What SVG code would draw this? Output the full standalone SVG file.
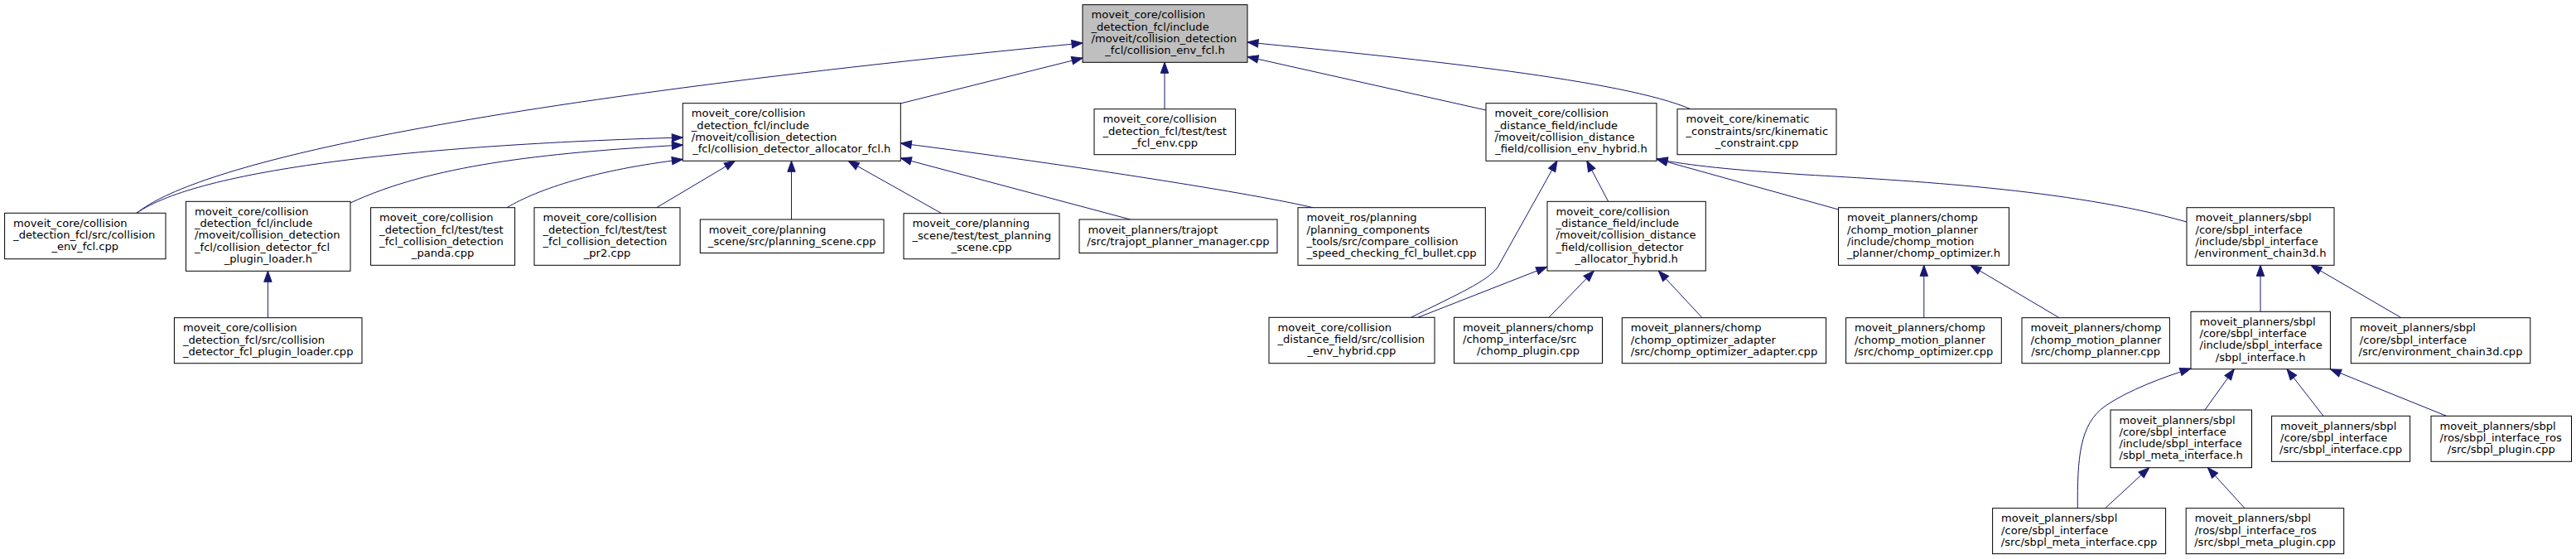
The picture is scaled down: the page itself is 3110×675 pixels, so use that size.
<svg xmlns="http://www.w3.org/2000/svg" width="3110" height="675" viewBox="0 0 3110 675">
<style>
.n rect{fill:#fff;stroke:#000;stroke-width:1}
.root rect{fill:#bfbfbf}
.n text{font-family:"DejaVu Sans","Liberation Sans",sans-serif;font-size:13.1px;fill:#000}
.n text.c{text-anchor:middle}
.e path{fill:none;stroke:#191970;stroke-width:1;marker-end:url(#arr)}
</style>
<defs>
<marker id="arr" markerWidth="13" markerHeight="10" refX="13" refY="4.7" orient="auto" markerUnits="userSpaceOnUse" overflow="visible">
<path d="M0,0 L13,4.7 L0,9.4 z" fill="#191970" stroke="#191970" stroke-width="1"/>
</marker>
</defs>
<rect width="3110" height="675" fill="#fff"/>
<g id="edges" class="e">
<path d="M165,257.3 C230,205 500,130 1307,52"/>
<path d="M1087,125 L1307,70"/>
<path d="M1406,131.7 L1406,75.3"/>
<path d="M1794,133 L1506,68.5"/>
<path d="M2041,131.7 C1960,97 1720,72 1506,51"/>
<path d="M165,257.3 C240,205 500,175 824.3,166"/>
<path d="M423,245 C520,200 650,185 824.3,175"/>
<path d="M612,250.7 C650,228 720,205 824.3,192.5"/>
<path d="M792.7,250.7 L887.5,194.3"/>
<path d="M955.5,265 L955.5,194.3"/>
<path d="M1136.8,257.7 L1024,194.3"/>
<path d="M1364.7,265 L1087.3,191"/>
<path d="M1585,250.7 C1520,235 1300,200 1087.3,173"/>
<path d="M323.4,383.7 L323.4,327.3"/>
<path d="M1703.6,383.3 C1760,355 1795,340 1808,323 L1880,194"/>
<path d="M1712,383.3 L1867.7,322.3"/>
<path d="M1941.7,243.3 L1915.7,194"/>
<path d="M2219.5,253 L2000,192"/>
<path d="M2640,268 C2500,228 2300,218 2180,211 C2090,205 2040,200 2000,192"/>
<path d="M1870,383.3 L1924.3,327"/>
<path d="M2055,383.7 L2002.3,327"/>
<path d="M2322.8,383.7 L2322.8,320.3"/>
<path d="M2486,383.7 L2379,320.3"/>
<path d="M2729,376.3 L2729,320.3"/>
<path d="M2899,383.7 L2790,320.3"/>
<path d="M2508.3,613.7 C2508,555 2510,512 2542,490 C2570,471 2610,456 2645,445"/>
<path d="M2662,495 L2697.3,445.7"/>
<path d="M2805,502.3 L2761,445.7"/>
<path d="M2953.6,502.3 L2813.4,445.7"/>
<path d="M2541.6,613.7 L2594.7,564.7"/>
<path d="M2710,613.7 L2665.4,564.7"/>
</g>
<g id="node0" class="n root">
<rect x="1307" y="5.7" width="199" height="69.6"/>
<text x="1317.5" y="22.2">moveit_core/collision</text>
<text x="1317.5" y="36.5">_detection_fcl/include</text>
<text x="1317.5" y="50.8">/moveit/collision_detection</text>
<text class="c" x="1406.5" y="65.1">_fcl/collision_env_fcl.h</text>
</g>
<g id="node1" class="n">
<rect x="824.3" y="124.7" width="263" height="69.6"/>
<text x="834.8" y="141.2">moveit_core/collision</text>
<text x="834.8" y="155.5">_detection_fcl/include</text>
<text x="834.8" y="169.8">/moveit/collision_detection</text>
<text class="c" x="955.8" y="184.1">_fcl/collision_detector_allocator_fcl.h</text>
</g>
<g id="node2" class="n">
<rect x="1321" y="131.7" width="170.6" height="55"/>
<text x="1331.5" y="148.2">moveit_core/collision</text>
<text x="1331.5" y="162.5">_detection_fcl/test/test</text>
<text class="c" x="1406.3" y="176.8">_fcl_env.cpp</text>
</g>
<g id="node3" class="n">
<rect x="1794" y="124.7" width="206" height="69.6"/>
<text x="1804.5" y="141.2">moveit_core/collision</text>
<text x="1804.5" y="155.5">_distance_field/include</text>
<text x="1804.5" y="169.8">/moveit/collision_distance</text>
<text class="c" x="1897" y="184.1">_field/collision_env_hybrid.h</text>
</g>
<g id="node4" class="n">
<rect x="2025" y="131.7" width="192" height="55"/>
<text x="2035.5" y="148.2">moveit_core/kinematic</text>
<text x="2035.5" y="162.5">_constraints/src/kinematic</text>
<text class="c" x="2121" y="176.8">_constraint.cpp</text>
</g>
<g id="node5" class="n">
<rect x="5.6" y="257.3" width="194.4" height="55.4"/>
<text x="16.1" y="273.8">moveit_core/collision</text>
<text x="16.1" y="288.1">_detection_fcl/src/collision</text>
<text class="c" x="102.8" y="302.4">_env_fcl.cpp</text>
</g>
<g id="node6" class="n">
<rect x="224.5" y="243.3" width="198.5" height="84"/>
<text x="235" y="259.8">moveit_core/collision</text>
<text x="235" y="274.1">_detection_fcl/include</text>
<text x="235" y="288.4">/moveit/collision_detection</text>
<text x="235" y="302.7">_fcl/collision_detector_fcl</text>
<text class="c" x="323.8" y="317">_plugin_loader.h</text>
</g>
<g id="node7" class="n">
<rect x="447.6" y="250.7" width="174" height="69.6"/>
<text x="458.1" y="267.2">moveit_core/collision</text>
<text x="458.1" y="281.5">_detection_fcl/test/test</text>
<text x="458.1" y="295.8">_fcl_collision_detection</text>
<text class="c" x="534.6" y="310.1">_panda.cpp</text>
</g>
<g id="node8" class="n">
<rect x="645" y="250.7" width="176" height="69.6"/>
<text x="655.5" y="267.2">moveit_core/collision</text>
<text x="655.5" y="281.5">_detection_fcl/test/test</text>
<text x="655.5" y="295.8">_fcl_collision_detection</text>
<text class="c" x="733" y="310.1">_pr2.cpp</text>
</g>
<g id="node9" class="n">
<rect x="845.3" y="265" width="221.7" height="40.5"/>
<text x="855.8" y="281.5">moveit_core/planning</text>
<text class="c" x="956.2" y="295.8">_scene/src/planning_scene.cpp</text>
</g>
<g id="node10" class="n">
<rect x="1091" y="257.7" width="188" height="55"/>
<text x="1101.5" y="274.2">moveit_core/planning</text>
<text x="1101.5" y="288.5">_scene/test/test_planning</text>
<text class="c" x="1185" y="302.8">_scene.cpp</text>
</g>
<g id="node11" class="n">
<rect x="1303" y="265" width="239" height="40.5"/>
<text x="1313.5" y="281.5">moveit_planners/trajopt</text>
<text class="c" x="1422.5" y="295.8">/src/trajopt_planner_manager.cpp</text>
</g>
<g id="node12" class="n">
<rect x="1567" y="250.7" width="226.3" height="69.6"/>
<text x="1577.5" y="267.2">moveit_ros/planning</text>
<text x="1577.5" y="281.5">/planning_components</text>
<text x="1577.5" y="295.8">_tools/src/compare_collision</text>
<text class="c" x="1680.2" y="310.1">_speed_checking_fcl_bullet.cpp</text>
</g>
<g id="node13" class="n">
<rect x="1868" y="243.3" width="191.3" height="83.7"/>
<text x="1878.5" y="259.8">moveit_core/collision</text>
<text x="1878.5" y="274.1">_distance_field/include</text>
<text x="1878.5" y="288.4">/moveit/collision_distance</text>
<text x="1878.5" y="302.7">_field/collision_detector</text>
<text class="c" x="1963.7" y="317">_allocator_hybrid.h</text>
</g>
<g id="node14" class="n">
<rect x="2219.5" y="250.7" width="206" height="69.6"/>
<text x="2230" y="267.2">moveit_planners/chomp</text>
<text x="2230" y="281.5">/chomp_motion_planner</text>
<text x="2230" y="295.8">/include/chomp_motion</text>
<text class="c" x="2322.5" y="310.1">_planner/chomp_optimizer.h</text>
</g>
<g id="node15" class="n">
<rect x="2640" y="250.7" width="178" height="69.6"/>
<text x="2650.5" y="267.2">moveit_planners/sbpl</text>
<text x="2650.5" y="281.5">/core/sbpl_interface</text>
<text x="2650.5" y="295.8">/include/sbpl_interface</text>
<text class="c" x="2729" y="310.1">/environment_chain3d.h</text>
</g>
<g id="node16" class="n">
<rect x="210.4" y="383.7" width="226.6" height="55"/>
<text x="220.9" y="400.2">moveit_core/collision</text>
<text x="220.9" y="414.5">_detection_fcl/src/collision</text>
<text class="c" x="323.7" y="428.8">_detector_fcl_plugin_loader.cpp</text>
</g>
<g id="node17" class="n">
<rect x="1532" y="383.3" width="200" height="55.4"/>
<text x="1542.5" y="399.8">moveit_core/collision</text>
<text x="1542.5" y="414.1">_distance_field/src/collision</text>
<text class="c" x="1632" y="428.4">_env_hybrid.cpp</text>
</g>
<g id="node18" class="n">
<rect x="1755.5" y="383.3" width="179" height="55.4"/>
<text x="1766" y="399.8">moveit_planners/chomp</text>
<text x="1766" y="414.1">/chomp_interface/src</text>
<text class="c" x="1845" y="428.4">/chomp_plugin.cpp</text>
</g>
<g id="node19" class="n">
<rect x="1958.3" y="383.7" width="246.3" height="55"/>
<text x="1968.8" y="400.2">moveit_planners/chomp</text>
<text x="1968.8" y="414.5">/chomp_optimizer_adapter</text>
<text class="c" x="2081.5" y="428.8">/src/chomp_optimizer_adapter.cpp</text>
</g>
<g id="node20" class="n">
<rect x="2228.6" y="383.7" width="187.7" height="55"/>
<text x="2239.1" y="400.2">moveit_planners/chomp</text>
<text x="2239.1" y="414.5">/chomp_motion_planner</text>
<text class="c" x="2322.5" y="428.8">/src/chomp_optimizer.cpp</text>
</g>
<g id="node21" class="n">
<rect x="2441" y="383.7" width="178.4" height="55"/>
<text x="2451.5" y="400.2">moveit_planners/chomp</text>
<text x="2451.5" y="414.5">/chomp_motion_planner</text>
<text class="c" x="2530.2" y="428.8">/src/chomp_planner.cpp</text>
</g>
<g id="node22" class="n">
<rect x="2645" y="376.3" width="168.4" height="69.4"/>
<text x="2655.5" y="392.8">moveit_planners/sbpl</text>
<text x="2655.5" y="407.1">/core/sbpl_interface</text>
<text x="2655.5" y="421.4">/include/sbpl_interface</text>
<text class="c" x="2729.2" y="435.7">/sbpl_interface.h</text>
</g>
<g id="node23" class="n">
<rect x="2838.3" y="383.7" width="216.5" height="55"/>
<text x="2848.8" y="400.2">moveit_planners/sbpl</text>
<text x="2848.8" y="414.5">/core/sbpl_interface</text>
<text class="c" x="2946.5" y="428.8">/src/environment_chain3d.cpp</text>
</g>
<g id="node24" class="n">
<rect x="2548" y="495" width="170.5" height="69.7"/>
<text x="2558.5" y="511.5">moveit_planners/sbpl</text>
<text x="2558.5" y="525.8">/core/sbpl_interface</text>
<text x="2558.5" y="540.1">/include/sbpl_interface</text>
<text class="c" x="2633.2" y="554.4">/sbpl_meta_interface.h</text>
</g>
<g id="node25" class="n">
<rect x="2742.6" y="502.3" width="167" height="55"/>
<text x="2753.1" y="518.8">moveit_planners/sbpl</text>
<text x="2753.1" y="533.1">/core/sbpl_interface</text>
<text class="c" x="2826.1" y="547.4">/src/sbpl_interface.cpp</text>
</g>
<g id="node26" class="n">
<rect x="2935" y="502.3" width="169.5" height="55"/>
<text x="2945.5" y="518.8">moveit_planners/sbpl</text>
<text x="2945.5" y="533.1">/ros/sbpl_interface_ros</text>
<text class="c" x="3019.8" y="547.4">/src/sbpl_plugin.cpp</text>
</g>
<g id="node27" class="n">
<rect x="2405.6" y="613.7" width="209" height="55"/>
<text x="2416.1" y="630.2">moveit_planners/sbpl</text>
<text x="2416.1" y="644.5">/core/sbpl_interface</text>
<text class="c" x="2510.1" y="658.8">/src/sbpl_meta_interface.cpp</text>
</g>
<g id="node28" class="n">
<rect x="2639.2" y="613.7" width="190.5" height="55"/>
<text x="2649.7" y="630.2">moveit_planners/sbpl</text>
<text x="2649.7" y="644.5">/ros/sbpl_interface_ros</text>
<text class="c" x="2734.5" y="658.8">/src/sbpl_meta_plugin.cpp</text>
</g>
</svg>
